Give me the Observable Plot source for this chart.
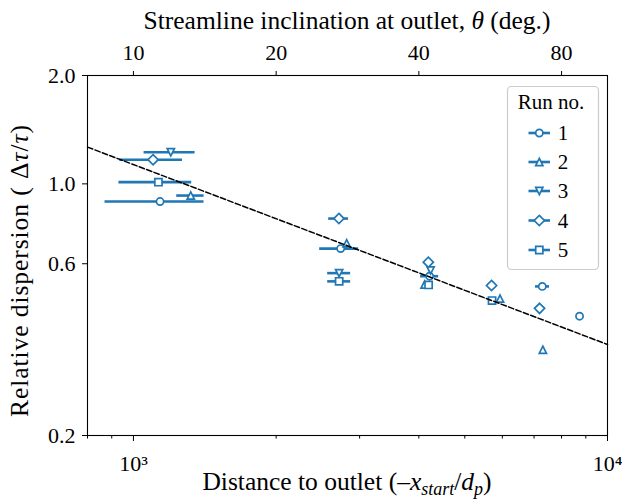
<!DOCTYPE html>
<html><head><meta charset="utf-8">
<script src="https://cdn.jsdelivr.net/npm/d3@7"></script>
<script src="https://cdn.jsdelivr.net/npm/@observablehq/plot@0.6"></script>
<style>
body{margin:0;background:#fff}
#chart svg{background:#fff}
#chart svg, #chart svg text, #chart svg tspan{font-family:"Liberation Serif","Times New Roman",serif !important}
</style>
</head><body><div id="chart"></div>
<script>
// ---------- data ----------
const runs = [1, 2, 3, 4, 5];
const run1X  = [1138, 2736, 4214, 7284, 8730];
const run1Y  = [0.893, 0.661, 0.554, 0.519, 0.429];
const run1Lo = [871, 2471, 4034, 7050, 8730];
const run1Hi = [1409, 2985, 4403, 7546, 8730];

const run2X  = [1321, 2817, 4113, 5934, 7306];
const run2Y  = [0.928, 0.684, 0.525, 0.480, 0.346];
const run2Lo = [1234, 2817, 4113, 5934, 7306];
const run2Hi = [1409, 2817, 4113, 5934, 7306];

const run3X  = [1199, 2716, 4235];
const run3Y  = [1.224, 0.565, 0.575];
const run3Lo = [1053, 2569, 4235];
const run3Hi = [1349, 2872, 4235];

const run4X  = [1100, 2713, 4188, 5694, 7190];
const run4Y  = [1.167, 0.801, 0.606, 0.522, 0.451];
const run4Lo = [936, 2581, 4188, 5694, 7190];
const run4Hi = [1269, 2843, 4188, 5694, 7190];

const run5X  = [1129, 2716, 4194, 5708];
const run5Y  = [1.011, 0.536, 0.524, 0.474];
const run5Lo = [932, 2569, 4194, 5708];
const run5Hi = [1327, 2872, 4194, 5708];

// fitted power-law line (two end points)
const fitX = [800, 10000];
const fitY = [1.265, 0.358];

// axes
const xDomain = [800, 10000];
const yDomain = [0.2, 2.0];
const xMajorTicks = [1000, 10000];
const xMajorLabels = ["10³", "10⁴"];
const xMinorTicks = [800, 900, 2000, 3000, 4000, 5000, 6000, 7000, 8000, 9000];
const yTicks = [0.2, 0.6, 1.0, 2.0];
const thetaTicks = [10, 20, 40, 80];
const distancePerDegree = 100; // top axis: theta = distance / 100

// ---------- build ----------
const FONT = "Liberation Serif";
const blue = "#1f77b4";
const hOf = size => Math.sqrt(size / Math.PI);
const symCircle = {draw(c, s){const h = hOf(s); c.moveTo(h, 0); c.arc(0, 0, h, 0, 2*Math.PI);}};
const symTriUp = {draw(c, s){const h = hOf(s); c.moveTo(0, -h); c.lineTo(h, h); c.lineTo(-h, h); c.closePath();}};
const symTriDown = {draw(c, s){const h = hOf(s); c.moveTo(0, h); c.lineTo(h, -h); c.lineTo(-h, -h); c.closePath();}};
const symDiamond = {draw(c, s){const h = hOf(s)*Math.SQRT2; c.moveTo(0, -h); c.lineTo(h, 0); c.lineTo(0, h); c.lineTo(-h, 0); c.closePath();}};
const symSquare = {draw(c, s){const h = hOf(s); c.moveTo(-h, -h); c.lineTo(h, -h); c.lineTo(h, h); c.lineTo(-h, h); c.closePath();}};
const symbols = [symCircle, symTriUp, symTriDown, symDiamond, symSquare];

const X = [run1X, run2X, run3X, run4X, run5X];
const Y = [run1Y, run2Y, run3Y, run4Y, run5Y];
const LO = [run1Lo, run2Lo, run3Lo, run4Lo, run5Lo];
const HI = [run1Hi, run2Hi, run3Hi, run4Hi, run5Hi];
const tables = runs.map((r, i) => X[i].map((x, j) => ({run: r, x, y: Y[i][j], lo: LO[i][j], hi: HI[i][j]})));
const fit = fitX.map((x, i) => ({x, y: fitY[i]}));
const thetaAsDistance = thetaTicks.map(t => t * distancePerDegree);

const R = 3.6;
const runMarks = tables.flatMap((t, i) => [
  Plot.ruleY(t, {y: "y", x1: "lo", x2: "hi", stroke: blue, strokeWidth: 2.6}),
  Plot.dot(t, {x: "x", y: "y", symbol: symbols[i], r: R, stroke: blue, fill: "white", strokeWidth: 1.7})
]);

const chart = Plot.plot({
  width: 622, height: 500,
  marginLeft: 87, marginRight: 15, marginTop: 75, marginBottom: 65,
  style: {fontFamily: FONT, background: "white", overflow: "visible"},
  x: {type: "log", domain: xDomain},
  y: {type: "log", domain: yDomain},
  marks: [
    ...runMarks,
    Plot.line(fit, {x: "x", y: "y", stroke: "black", strokeWidth: 1.5, strokeDasharray: "5.5,2.4"}),
    Plot.frame({stroke: "black", strokeWidth: 1.1}),
    Plot.axisX({anchor: "bottom", ticks: xMinorTicks, tickSize: 3.5, tickFormat: () => "", label: null}),
    Plot.axisX({anchor: "bottom", ticks: xMajorTicks, tickSize: 6, tickPadding: 14, fontSize: 22,
      tickFormat: d => xMajorLabels[xMajorTicks.indexOf(d)], label: null}),
    Plot.axisX({anchor: "top", ticks: thetaAsDistance, tickSize: 5, tickPadding: 11, fontSize: 22,
      tickFormat: d => String(thetaTicks[thetaAsDistance.indexOf(d)]), label: null}),
    Plot.axisY({anchor: "left", ticks: yTicks, tickSize: 5, tickPadding: 7, fontSize: 22,
      tickFormat: d3.format(".1f"), label: null})
  ]
});

const svg = d3.select(chart);

// axis titles
const title = svg.append("text").attr("x", 347).attr("y", 29).attr("text-anchor", "middle")
  .attr("font-size", 25.5).attr("fill", "black");
title.append("tspan").text("Streamline inclination at outlet, ");
title.append("tspan").attr("font-style", "italic").text("θ");
title.append("tspan").text(" (deg.)");

const xl = svg.append("text").attr("x", 347).attr("y", 490).attr("text-anchor", "middle")
  .attr("font-size", 25.5).attr("fill", "black");
xl.append("tspan").text("Distance to outlet (–");
xl.append("tspan").attr("font-style", "italic").text("x");
xl.append("tspan").attr("font-style", "italic").attr("font-size", 18).attr("dy", 5).text("start");
xl.append("tspan").attr("dy", -5).text("/");
xl.append("tspan").attr("font-style", "italic").text("d");
xl.append("tspan").attr("font-style", "italic").attr("font-size", 18).attr("dy", 5).text("p");
xl.append("tspan").attr("dy", -5).text(")");

const yl = svg.append("text").attr("transform", "translate(28,271) rotate(-90)").attr("text-anchor", "middle")
  .attr("font-size", 25.5).attr("fill", "black")
  .attr("textLength", 292).attr("lengthAdjust", "spacing");
yl.append("tspan").text("Relative dispersion ( Δ");
yl.append("tspan").attr("font-style", "italic").text("τ");
yl.append("tspan").text("/");
yl.append("tspan").attr("font-style", "italic").text("τ");
yl.append("tspan").text(")");

// legend
const lg = svg.append("g");
lg.append("rect").attr("x", 507.5).attr("y", 86.5).attr("width", 91).attr("height", 183).attr("rx", 4)
  .attr("fill", "white").attr("fill-opacity", 0.85).attr("stroke", "#cccccc").attr("stroke-width", 1.2);
lg.append("text").attr("x", 551).attr("y", 109).attr("text-anchor", "middle").attr("font-size", 21)
  .attr("fill", "black").text("Run no.");
const rowY = [133, 162, 191, 220.5, 250];
runs.forEach((r, i) => {
  const g = lg.append("g").attr("transform", `translate(0,${rowY[i]})`);
  g.append("line").attr("x1", 528.5).attr("x2", 550).attr("stroke", blue).attr("stroke-width", 2.6);
  g.append("path").attr("transform", "translate(539.3,0)").attr("d", d3.symbol(symbols[i], R*R*Math.PI)())
    .attr("fill", "white").attr("stroke", blue).attr("stroke-width", 1.7);
  g.append("text").attr("x", 563).attr("dy", "0.35em").attr("font-size", 21).attr("fill", "black").text(r);
});
svg.selectAll("text").attr("font-family", FONT);

document.getElementById("chart").appendChild(chart);
</script>
</body></html>
